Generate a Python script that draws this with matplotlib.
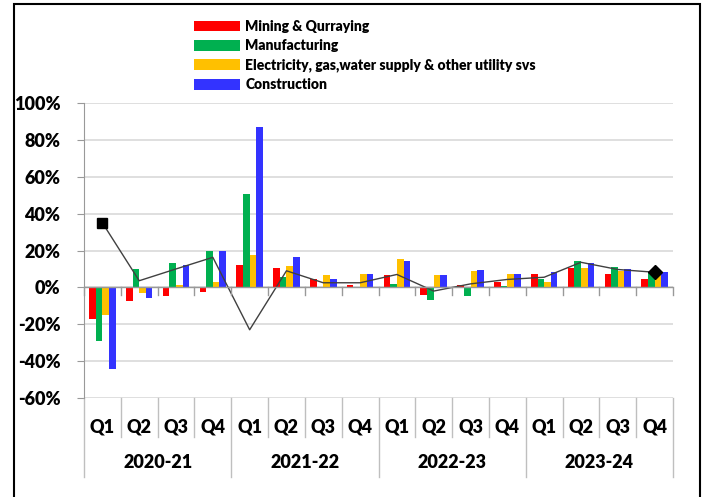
import numpy as np
import matplotlib
matplotlib.use("Agg")
import matplotlib.pyplot as plt
from matplotlib.patches import Rectangle

plt.rcParams['font.family'] = ['Lato', 'DejaVu Sans']
plt.rcParams['font.weight'] = 'heavy'

quarters = ["Q1", "Q2", "Q3", "Q4"] * 4
years = ["2020-21", "2021-22", "2022-23", "2023-24"]

series_names = ["Mining & Qurraying", "Manufacturing",
                "Electricity, gas,water supply & other utility svs", "Construction"]
series_colors = ["#FF0000", "#00B050", "#FFC000", "#3333FF"]

mining = [-17, -7.5, -4.5, -2.5, 12, 10.5, 4.5, 1.3, 6.5, -4, 1.2, 2.8, 7, 10.7, 7.4, 4.3]
manufacturing = [-29, 9.7, 13, 20, 50.4, 5.5, 0.2, 0.2, 2, -7, -4.5, 0.8, 4.6, 14.1, 11.3, 8.2]
electricity = [-15, -3, 1.2, 3, 17.4, 11.5, 6.5, 7, 15.5, 6.5, 8.7, 7, 2.8, 10.4, 8.8, 7.4]
construction = [-44, -6, 12, 19.5, 87, 16.5, 4.5, 7, 14.5, 6.7, 9.3, 7, 8.4, 13.3, 9.7, 8.6]
overall = [35, 3.6, 10, 16.3, -23, 9, 2.5, 2.5, 7, -2, 1.9, 4.3, 5.5, 13.6, 9.7, 8.2]

yticks = [-60, -40, -20, 0, 20, 40, 60, 80, 100]

fig = plt.figure(figsize=(7.04, 4.97), dpi=100)
ax = fig.add_axes([84 / 704, 1 - 398 / 497, 589 / 704, 295 / 497])

x = np.arange(len(quarters))
w = 0.18
data = [mining, manufacturing, electricity, construction]
for i, (vals, name, col) in enumerate(zip(data, series_names, series_colors)):
    ax.bar(x + (i - 1.5) * w, vals, width=w, color=col, label=name, zorder=3)

# overall line
ax.plot(x, overall, color="#404040", lw=1, zorder=4)
ax.plot(x[0], overall[0], marker="s", ms=6.5, color="black", zorder=5)
ax.plot(x[-1], overall[-1], marker="D", ms=7.5, color="black", zorder=5)

ax.set_xlim(-0.5, 15.5)
ax.set_ylim(-60, 100)
ax.set_yticks(yticks)
ax.set_yticklabels([f"{t}%" for t in yticks], fontsize=13)
ax.yaxis.grid(True, color="#D9D9D9", lw=1.2, zorder=0)
ax.tick_params(axis="y", length=5, color="#999999", pad=12)

for s in ["top", "right", "bottom"]:
    ax.spines[s].set_visible(False)
ax.spines["left"].set_color("#999999")

# zero axis line and boundary ticks
ax.axhline(0, color="#999999", lw=1, zorder=4)
ax.set_xticks([])
trans = ax.get_xaxis_transform()
for b in np.arange(-0.5, 16, 1):
    ax.plot([b, b], [0, -4], color="#999999", lw=1, zorder=4, clip_on=False)

# category axis below
for b in np.arange(-0.5, 16, 1):
    y_end = -0.268 if (b + 0.5) % 4 == 0 else -0.132
    ax.plot([b, b], [0, y_end], color="#BFBFBF", lw=1, transform=trans, clip_on=False)
for i, q in enumerate(quarters):
    ax.text(i, -0.098, q, transform=trans, ha="center", va="center", fontsize=13)
for j, yr in enumerate(years):
    ax.text(j * 4 + 1.5, -0.22, yr, transform=trans, ha="center", va="center", fontsize=13)

fig.legend(loc="upper left", bbox_to_anchor=(194 / 704, 1 - 20 / 497),
           frameon=False, fontsize=10, handlelength=3.3, handleheight=0.8,
           labelspacing=0.45, handletextpad=0.4, borderpad=0, borderaxespad=0)

# outer border
fig.add_artist(Rectangle((14 / 704, -0.02), 686 / 704, 1.012, transform=fig.transFigure,
                         fill=False, ec="black", lw=1.5))

fig.savefig("out.png", dpi=100)
